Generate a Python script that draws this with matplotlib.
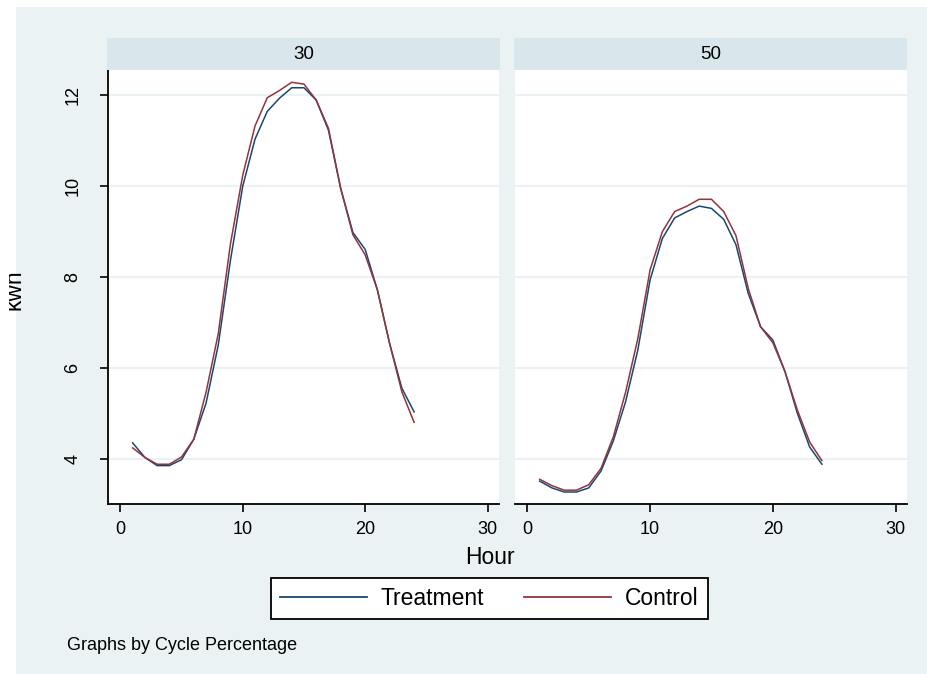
import matplotlib
matplotlib.use("Agg")
import matplotlib.pyplot as plt
from matplotlib.patches import Rectangle
from matplotlib.lines import Line2D
from matplotlib.transforms import Bbox, TransformedBbox

plt.rcParams['font.family'] = ['Liberation Sans', 'DejaVu Sans']

hours = list(range(1, 25))
panels = ["30", "50"]

treat_30 = [4.35, 4.03, 3.85, 3.85, 3.98, 4.43, 5.22, 6.50, 8.37, 9.99, 11.02, 11.63,
            11.92, 12.15, 12.15, 11.88, 11.22, 9.94, 8.97, 8.60, 7.71, 6.53, 5.55, 5.03]
ctrl_30 = [4.24, 4.03, 3.88, 3.88, 4.04, 4.43, 5.46, 6.75, 8.73, 10.23, 11.31, 11.93,
           12.09, 12.27, 12.23, 11.88, 11.26, 9.94, 8.92, 8.48, 7.71, 6.53, 5.47, 4.80]
treat_50 = [3.51, 3.36, 3.27, 3.27, 3.36, 3.73, 4.39, 5.25, 6.39, 7.93, 8.84, 9.29,
            9.43, 9.55, 9.50, 9.26, 8.70, 7.63, 6.90, 6.61, 5.91, 5.00, 4.26, 3.88]
ctrl_50 = [3.55, 3.41, 3.31, 3.31, 3.43, 3.79, 4.48, 5.46, 6.64, 8.15, 8.99, 9.43,
           9.55, 9.70, 9.70, 9.43, 8.90, 7.74, 6.90, 6.55, 5.91, 5.07, 4.37, 3.96]

treat = [treat_30, treat_50]
ctrl = [ctrl_30, ctrl_50]

xticks = [0, 10, 20, 30]
yticks = [4, 6, 8, 10, 12]

W, H = 928, 674
BG = '#EAF2F3'
STRIP = '#D9E6EB'
BLUE = '#1A476F'
RED = '#90353B'
FS_TICK = 13
FS_BIG = 16.5

fig = plt.figure(figsize=(W / 100, H / 100), dpi=100, facecolor=BG)
# white margins on the left and top
fig.patches.append(Rectangle((0, 0), 16 / W, 1, transform=fig.transFigure,
                             facecolor='white', edgecolor='none', zorder=-10))
fig.patches.append(Rectangle((0, 1 - 7 / H), 1, 7 / H, transform=fig.transFigure,
                             facecolor='white', edgecolor='none', zorder=-10))

def fx(px):
    return px / W

def fy(py):
    return 1 - py / H

ax_left_px = [108, 515]
ax_right_px = [499.3, 907.3]
top_px, bot_px = 70, 504.3
strip_lr = [(106.7, 500), (514, 907.3)]
strip_top = 38.3

for i in range(2):
    l, r = ax_left_px[i], ax_right_px[i]
    ax = fig.add_axes([fx(l), fy(bot_px), fx(r - l), (bot_px - top_px) / H])
    ax.set_facecolor('white')
    ax.plot(hours, treat[i], color=BLUE, lw=1.1, zorder=3)
    ax.plot(hours, ctrl[i], color=RED, lw=1.1, zorder=3)
    ax.set_xlim(-1.01, 30.96)
    ax.set_ylim(3.0, 12.54)
    ax.set_xticks(xticks)
    ax.set_yticks(yticks)
    for v in yticks:
        ax.axhline(v, color=BG, lw=1.5, zorder=1)
    for s in ['top', 'right']:
        ax.spines[s].set_visible(False)
    ax.spines['bottom'].set_linewidth(1.3)
    ax.spines['left'].set_linewidth(1.3)
    ax.tick_params(axis='x', direction='out', length=6, width=1.2, pad=6,
                   labelsize=FS_TICK, colors='black')
    if i == 0:
        ax.tick_params(axis='y', direction='out', length=6, width=1.2, pad=13,
                       labelsize=FS_TICK)
        for lab in ax.get_yticklabels():
            lab.set_rotation(90)
            lab.set_va('center')
            lab.set_ha('right')
    else:
        ax.spines['left'].set_visible(False)
        ax.tick_params(axis='y', left=False, labelleft=False)
    # strip
    sl, sr = strip_lr[i]
    sax = fig.add_axes([fx(sl), fy(top_px), fx(sr - sl), (top_px - strip_top) / H])
    sax.set_facecolor(STRIP)
    sax.set_xticks([])
    sax.set_yticks([])
    for s in sax.spines.values():
        s.set_visible(False)
    sax.text(0.5, 0.5, panels[i], ha='center', va='center', fontsize=13.5,
             transform=sax.transAxes)

fig.text(fx(490), fy(558), 'Hour', ha='center', va='center', fontsize=FS_BIG)

t = fig.text(fx(21), fy(290), 'kwh', rotation=90, rotation_mode='anchor',
             ha='center', va='baseline', fontsize=FS_BIG)
t.set_clip_box(TransformedBbox(Bbox([[9 / W, 0], [1, 1]]), fig.transFigure))
t.set_clip_on(True)

handles = [Line2D([], [], color=BLUE, lw=1.3), Line2D([], [], color=RED, lw=1.3)]
leg = fig.legend(handles, ['Treatment', 'Control'], ncol=2, loc='center',
                 bbox_to_anchor=(fx(489.4), fy(598.7)), fontsize=FS_BIG,
                 frameon=True, fancybox=False, edgecolor='black', facecolor='white',
                 framealpha=1, handlelength=3.8, handletextpad=0.6,
                 columnspacing=1.75, borderpad=0.4)
leg.get_frame().set_linewidth(1.3)

fig.text(fx(67.3), fy(645), 'Graphs by Cycle Percentage', ha='left', va='center',
         fontsize=13)

fig.savefig('out.png', dpi=100, facecolor=BG)
